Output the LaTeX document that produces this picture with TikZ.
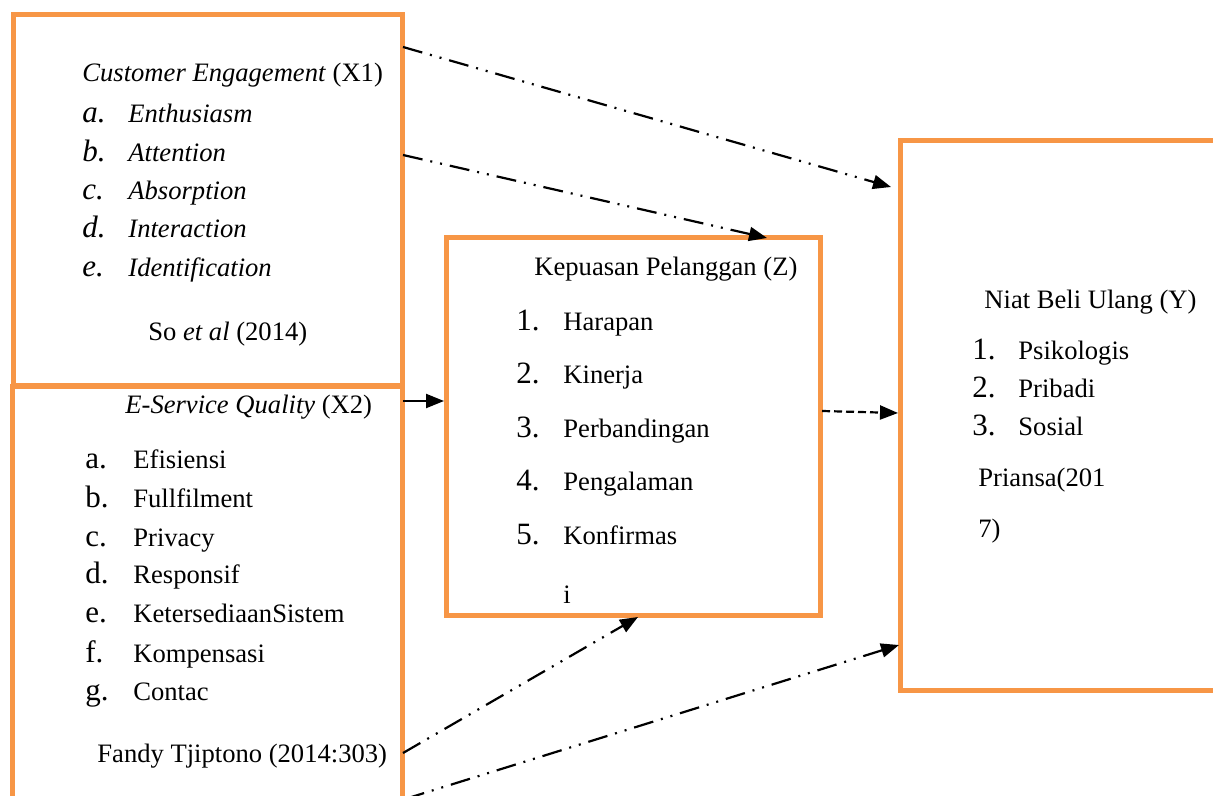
\documentclass[tikz,border=0pt]{standalone}
\usepackage{fontspec}
\setmainfont{Liberation Serif}
\usetikzlibrary{arrows.meta}
\definecolor{boxorange}{RGB}{247,150,70}
\tikzset{
  varbox/.style={draw=boxorange, line width=2.5pt, rectangle, inner sep=0pt},
  txt/.style={anchor=base west, inner sep=0pt, font=\fontsize{13.3}{16}\selectfont},
  num/.style={anchor=base west, inner sep=0pt, font=\fontsize{15.5}{18}\selectfont},
  dashdotdot/.style={line width=1.1pt, dash pattern=on 10pt off 4pt on 1pt off 4pt on 1pt off 4pt},
  shortdash/.style={line width=1.1pt, dash pattern=on 4pt off 2pt},
  tip/.style={-{Triangle[length=9pt,width=7pt]}}
}
\begin{document}
\begin{tikzpicture}[x=0.5pt, y=-0.5pt]
    \useasboundingbox (0,0) rectangle (1213,796);

    \node[varbox, minimum width=195pt, minimum height=222pt] (x2) at (207,608) {};
    \node[varbox, minimum width=194.25pt, minimum height=185pt] (x1) at (207.75,200) {};
    \node[varbox, minimum width=187pt, minimum height=188.5pt] (z) at (633,426.5) {};
    \node[varbox, minimum width=180pt, minimum height=274.5pt] (y) at (1080,415.5) {};

    \node[txt] (x1title) at (82,82) {\textit{Customer Engagement} (X1)};
    \foreach \l/\t/\y [count=\i] in {a./Enthusiasm/123, b./Attention/162, c./Absorption/200, d./Interaction/238, e./Identification/277} {
        \node[num, font=\fontsize{15.5}{18}\selectfont\itshape] (x1l\i) at (82,\y) {\l};
        \node[txt] (x1t\i) at (128,\y) {\textit{\t}};
    }
    \node[txt] (x1src) at (148,340) {So \textit{et al} (2014)};

    \node[txt] (x2title) at (125,413) {\textit{E-Service Quality} (X2)};
    \foreach \l/\t/\y [count=\i] in {a./Efisiensi/468, b./Fullfilment/507, c./Privacy/546, d./Responsif/583, e./KetersediaanSistem/622, f./Kompensasi/662, g./Contac/700} {
        \node[num] (x2l\i) at (85,\y) {\l};
        \node[txt] (x2t\i) at (133,\y) {\t};
    }
    \node[txt] (x2src) at (97,762) {Fandy Tjiptono (2014:303)};

    \node[txt] (ztitle) at (534,276) {Kepuasan Pelanggan (Z)};
    \foreach \t/\y [count=\i] in {Harapan/330, Kinerja/383.5, Perbandingan/437, Pengalaman/490.5, Konfirmas/544} {
        \node[num] (zl\i) at (516,\y) {\i.};
        \node[txt] (zt\i) at (563,\y) {\t};
    }
    \node[txt] (zrest) at (563,603) {i};

    \node[txt] (ytitle) at (984,308) {Niat Beli Ulang (Y)};
    \foreach \t/\y [count=\i] in {Psikologis/359, Pribadi/397, Sosial/435} {
        \node[num] (yl\i) at (972,\y) {\i.};
        \node[txt] (yt\i) at (1018,\y) {\t};
    }
    \node[txt] (ysrc) at (978,486) {Priansa(201};
    \node[txt] (ysrc2) at (978,537) {7)};

    \coordinate (x1top) at (403,47);
    \coordinate (x1mid) at (403,155);
    \coordinate (x2top) at (403,401);
    \coordinate (x2low) at (403,753);
    \coordinate (x2foot) at (405,799);
    \coordinate (zin) at (444,401);
    \coordinate (ztop) at (767,238);
    \coordinate (zbot) at (638,617);
    \coordinate (zout) at (822,411);
    \coordinate (yupper) at (891,187);
    \coordinate (ymid) at (898,413);
    \coordinate (ylower) at (899,645);

    \draw[dashdotdot, tip] (x1top) -- (yupper);
    \draw[dashdotdot, tip] (x1mid) -- (ztop);
    \draw[line width=1.1pt, tip] (x2top) -- (zin);
    \draw[shortdash, tip] (zout) -- (ymid);
    \draw[dashdotdot, tip] (x2low) -- (zbot);
    \draw[dashdotdot, tip] (x2foot) -- (ylower);
\end{tikzpicture}
\end{document}
